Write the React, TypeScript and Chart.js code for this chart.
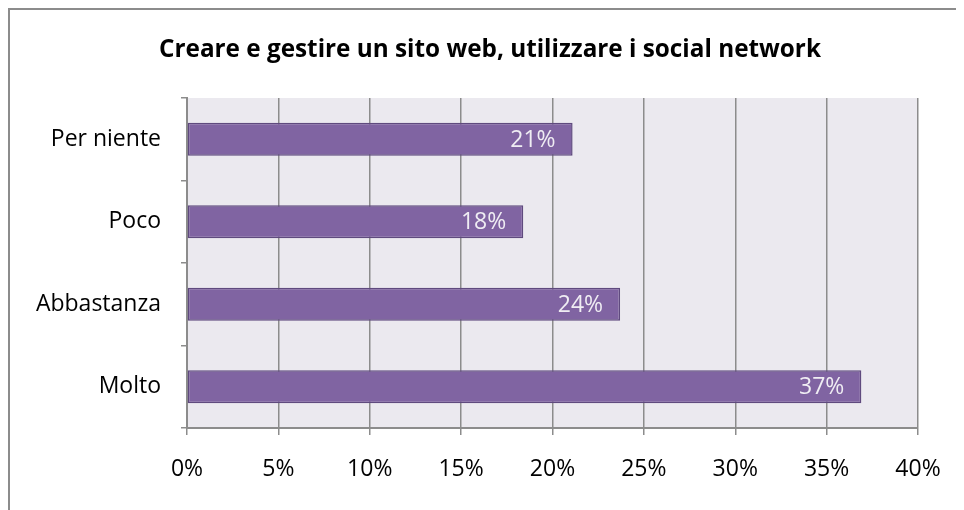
import React, { useEffect, useRef } from "react";
import { Chart, registerables } from "chart.js";

Chart.register(...registerables);

const categories = ["Per niente", "Poco", "Abbastanza", "Molto"];
const values = [21.1, 18.4, 23.7, 36.9];
const valueLabels = ["21%", "18%", "24%", "37%"];
const xTicks = [0, 5, 10, 15, 20, 25, 30, 35, 40];
const title = "Creare e gestire un sito web, utilizzare i social network";

const FONT = "'Open Sans', Lato, sans-serif";

const bgPlugin = {
  id: "plotBg",
  beforeDraw(chart: any) {
    const { ctx, chartArea } = chart;
    ctx.save();
    ctx.fillStyle = "#EBE9EF";
    ctx.fillRect(chartArea.left, chartArea.top, chartArea.right - chartArea.left, chartArea.bottom - chartArea.top);
    ctx.restore();
  },
};

const labelPlugin = {
  id: "barLabels",
  afterDatasetsDraw(chart: any) {
    const { ctx } = chart;
    const meta = chart.getDatasetMeta(0);
    ctx.save();
    ctx.font = `23px ${FONT}`;
    ctx.fillStyle = "#EFEDF3";
    ctx.textAlign = "right";
    ctx.textBaseline = "middle";
    meta.data.forEach((bar: any, i: number) => {
      ctx.fillText(valueLabels[i], bar.x - 17, bar.y + 1);
    });
    ctx.restore();
  },
};

export default function App() {
  const ref = useRef<HTMLCanvasElement>(null);
  useEffect(() => {
    if (!ref.current) return;
    const chart = new Chart(ref.current, {
      type: "bar",
      data: {
        labels: categories,
        datasets: [
          {
            data: values,
            backgroundColor: "#8064A2",
            borderColor: "#5F4A7E",
            borderWidth: 1.5,
            borderSkipped: false,
            barPercentage: 0.4,
            categoryPercentage: 1,
          },
        ],
      },
      options: {
        indexAxis: "y",
        animation: false,
        responsive: false,
        maintainAspectRatio: false,
        layout: { padding: { left: 6, right: 0, top: 0, bottom: 26 } },
        plugins: {
          legend: { display: false },
          tooltip: { enabled: false },
          title: {
            display: true,
            text: title,
            color: "#000",
            font: { family: FONT, size: 24.3, weight: "bold" },
            padding: { top: 25.4, bottom: 33.4 },
          },
        },
        scales: {
          x: {
            min: 0,
            max: 40,
            afterBuildTicks(axis: any) {
              axis.ticks = xTicks.map((v) => ({ value: v }));
            },
            afterFit(axis: any) {
              axis.height = 56;
            },
            ticks: {
              color: "#000",
              font: { family: FONT, size: 23 },
              padding: 21,
              callback: (v: any) => v + "%",
              maxRotation: 0,
            },
            grid: {
              color: "#8C8C8C",
              lineWidth: 1.5,
              tickLength: 7,
              drawTicks: true,
            },
            border: { color: "#8C8C8C", width: 2 },
          },
          y: {
            afterFit(axis: any) {
              axis.width = 171;
            },
            ticks: {
              color: "#000",
              font: { family: FONT, size: 23 },
              padding: 20,
            },
            grid: {
              offset: true,
              drawOnChartArea: false,
              drawTicks: true,
              tickLength: 6,
              color: "#8C8C8C",
              lineWidth: 1.5,
            },
            border: { color: "#8C8C8C", width: 2 },
          },
          yPad: {
            type: "linear",
            position: "right",
            display: true,
            afterFit(axis: any) {
              axis.width = 46;
            },
            ticks: { display: false },
            grid: { display: false, drawTicks: false },
            border: { display: false },
          },
        },
      },
      plugins: [bgPlugin, labelPlugin],
    });
    return () => chart.destroy();
  }, []);
  return (
    <div
      style={{
        width: 956,
        height: 502,
        borderLeft: "2px solid #8C8C8C",
        borderTop: "2px solid #8C8C8C",
        boxSizing: "border-box",
        overflow: "hidden",
      }}
    >
      <canvas ref={ref} width={954} height={500} style={{ display: "block" }} />
    </div>
  );
}
